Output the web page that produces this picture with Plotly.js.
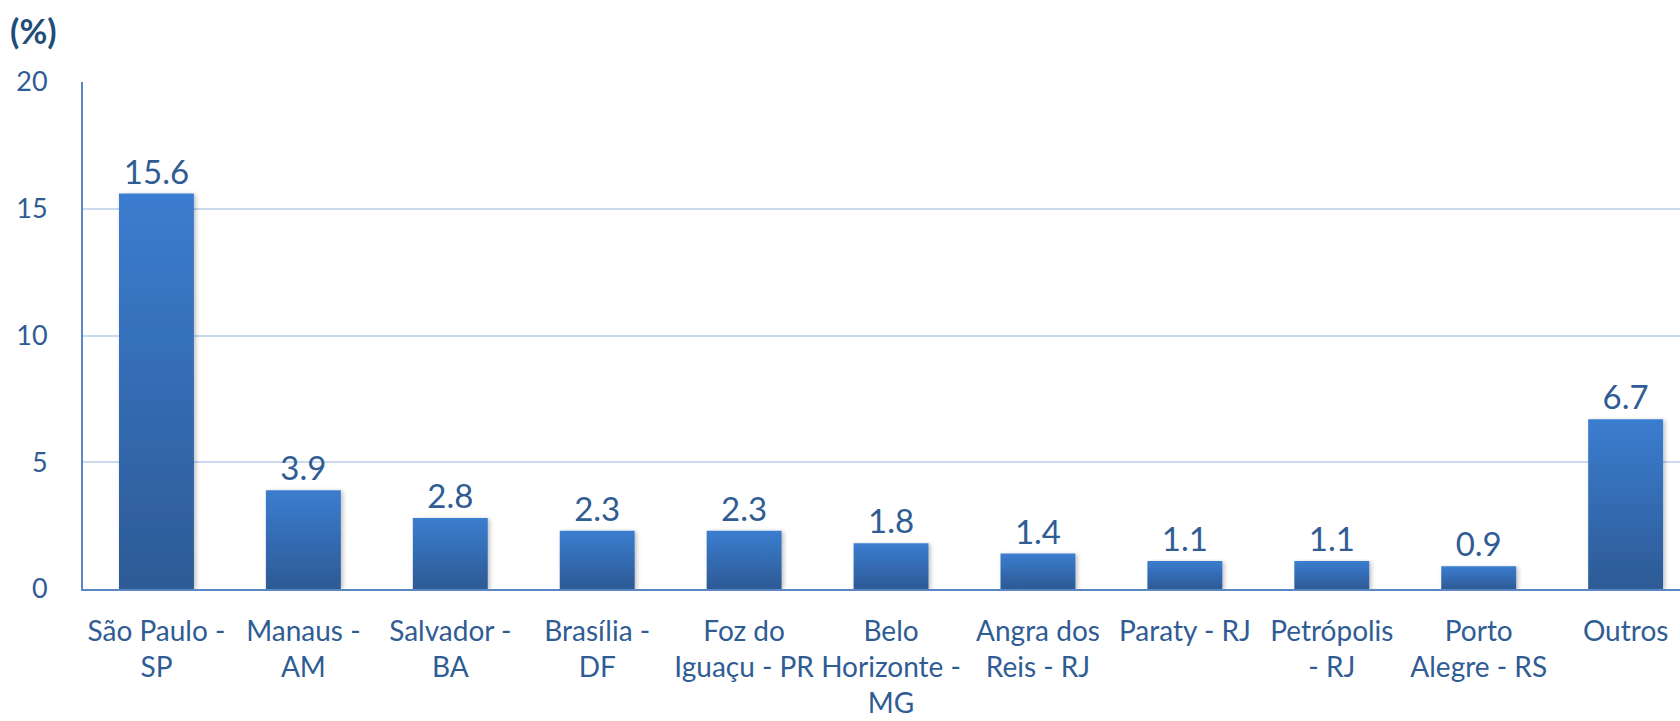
<!DOCTYPE html>
<html>
<head>
<meta charset="utf-8">
<script src="https://cdn.plot.ly/plotly-3.0.1.min.js"></script>
<style>html,body{margin:0;padding:0;background:#fff;}#chart{width:1680px;height:721px;}</style>
</head>
<body>
<div id="chart"></div>
<script>
const categories = ["São Paulo -<br>SP", "Manaus -<br>AM", "Salvador -<br>BA", "Brasília -<br>DF", "Foz do<br>Iguaçu - PR", "Belo<br>Horizonte -<br>MG", "Angra dos<br>Reis - RJ", "Paraty - RJ", "Petrópolis<br>- RJ", "Porto<br>Alegre - RS", "Outros"];
const values = [15.6, 3.9, 2.8, 2.3, 2.3, 1.8, 1.4, 1.1, 1.1, 0.9, 6.7];
const valueLabels = ["15.6", "3.9", "2.8", "2.3", "2.3", "1.8", "1.4", "1.1", "1.1", "0.9", "6.7"];
const yTicks = [0, 5, 10, 15, 20];

const FONT = "Lato, 'Open Sans', sans-serif";
const textColor = "#305c94";

const trace = {
  type: "bar",
  x: categories,
  y: values,
  text: valueLabels,
  textposition: "outside",
  cliponaxis: false,
  textfont: {family: FONT, size: 33, color: textColor},
  marker: {color: "#3670bb", line: {width: 0}},
  width: 0.51,
  hoverinfo: "none"
};

const layout = {
  width: 1680, height: 721,
  margin: {l: 83, r: 0, t: 82, b: 132},
  paper_bgcolor: "#ffffff",
  plot_bgcolor: "#ffffff",
  showlegend: false,
  font: {family: FONT, color: textColor},
  title: {
    text: "<b>(%)</b>",
    font: {family: FONT, size: 34, color: "#1f4e79"},
    x: 0.006, xanchor: "left", xref: "container",
    y: 0.955, yanchor: "middle", yref: "container"
  },
  xaxis: {
    type: "category",
    range: [-0.5, 10.37],
    tickfont: {family: FONT, size: 28, color: textColor},
    showgrid: false,
    showline: true, linecolor: "#5b86c4", linewidth: 2,
    ticks: "", ticklabelstandoff: 16,
    fixedrange: true
  },
  yaxis: {
    range: [0, 20],
    tickvals: yTicks,
    tickfont: {family: FONT, size: 27, color: textColor},
    showgrid: true, gridcolor: "#c9d9ef", gridwidth: 2,
    showline: true, linecolor: "#5b86c4", linewidth: 2,
    zeroline: false,
    ticks: "", ticklabelstandoff: 28,
    fixedrange: true
  },
  bargap: 0.49
};

Plotly.newPlot("chart", [trace], layout, {displayModeBar: false, staticPlot: true}).then(function(gd){
  const svg = gd.querySelector("svg.main-svg");
  const ns = "http://www.w3.org/2000/svg";
  let defs = svg.querySelector("defs");
  if (!defs) { defs = document.createElementNS(ns, "defs"); svg.insertBefore(defs, svg.firstChild); }
  const grad = document.createElementNS(ns, "linearGradient");
  grad.setAttribute("id", "barGrad");
  grad.setAttribute("x1", "0"); grad.setAttribute("y1", "0");
  grad.setAttribute("x2", "0"); grad.setAttribute("y2", "1");
  [["0", "#3b7dd0"], ["1", "#2d5a95"]].forEach(function(s){
    const st = document.createElementNS(ns, "stop");
    st.setAttribute("offset", s[0]); st.setAttribute("stop-color", s[1]);
    grad.appendChild(st);
  });
  defs.appendChild(grad);
  const filt = document.createElementNS(ns, "filter");
  filt.setAttribute("id", "barShadow");
  filt.setAttribute("x", "-20%"); filt.setAttribute("y", "-5%");
  filt.setAttribute("width", "140%"); filt.setAttribute("height", "110%");
  const fe = document.createElementNS(ns, "feDropShadow");
  fe.setAttribute("dx", "2"); fe.setAttribute("dy", "1");
  fe.setAttribute("stdDeviation", "2"); fe.setAttribute("flood-color", "#000"); fe.setAttribute("flood-opacity", "0.25");
  filt.appendChild(fe);
  defs.appendChild(filt);
  gd.querySelectorAll(".bars .point path").forEach(function(p){
    p.style.fill = "url(#barGrad)";
    p.style.filter = "url(#barShadow)";
  });
});
</script>
</body>
</html>
